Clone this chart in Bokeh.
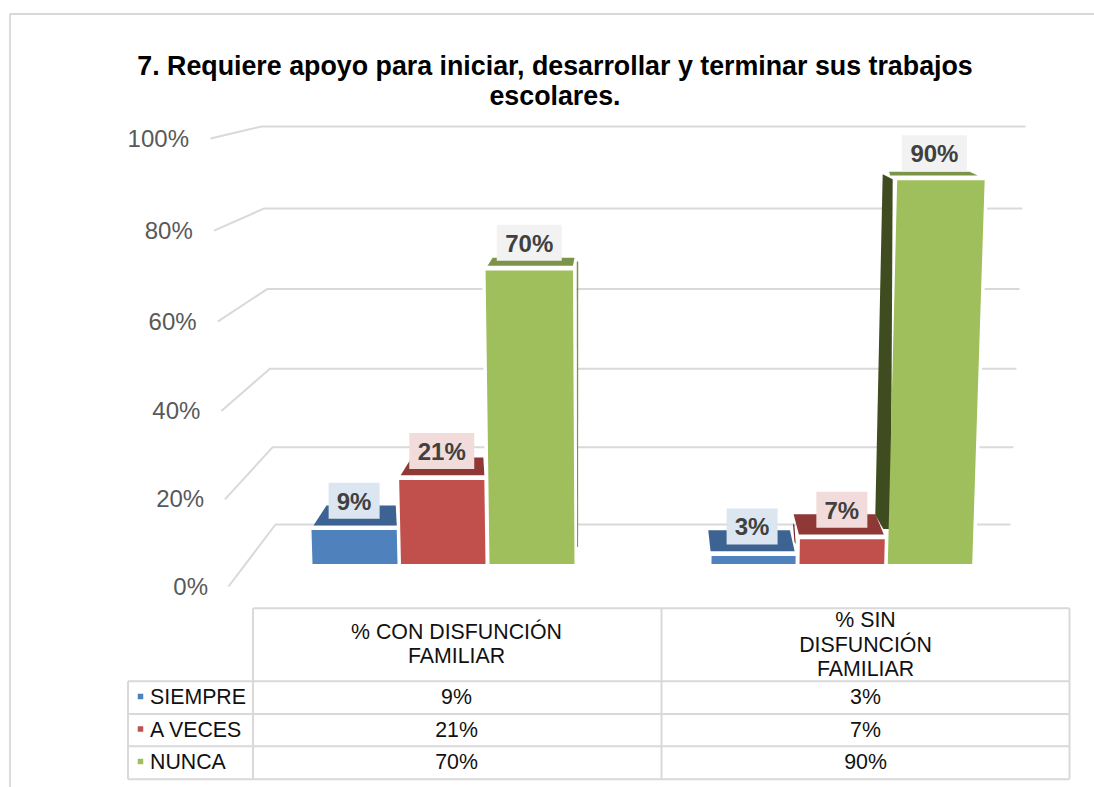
from bokeh.plotting import figure
from bokeh.models import Range1d, ColumnDataSource
from bokeh.core.properties import value
from bokeh.embed import file_html
from bokeh.resources import INLINE

# ---------- data ----------
title_lines = ["7. Requiere apoyo para iniciar, desarrollar y terminar sus trabajos", "escolares."]
series = ["SIEMPRE", "A VECES", "NUNCA"]
group_lines = [["% CON DISFUNCIÓN", "FAMILIAR"], ["% SIN", "DISFUNCIÓN", "FAMILIAR"]]
con_disfuncion = [9, 21, 70]
sin_disfuncion = [3, 7, 90]
ticks = [0, 20, 40, 60, 80, 100]

# ---------- styles ----------
front_colors = ["#4f81bd", "#c1504d", "#9fbf5c"]
top_colors = ["#3c6391", "#8f3937", "#7c9447"]
box_colors = ["#dce6f1", "#f2dcdb", "#f2f2f2"]
GRID = "#d9d9d9"
FONT = value("Liberation Sans")

# ---------- layout / projection ----------
W, H = 1094, 787
BASE = 563.5
VX, KX = 630.0, 9.5e-5
GAP = 4.7
SLOT_X = [[312, 400.5, 489], [711, 799, 887.3]]
SLOT_W = [[85, 84.5, 85], [84, 84.7, 84.4]]
SCALE = [429, 433]
INSET = [3.5, 4.5]
# offsets of a bar's top face corners from its front corners: front-left, front-right, back-left, back-right
TOP_OFF = [[(2, 0, 15, -1), (1.5, 0, 12.5, -1), (2, 0, 7, 1.6)],
           [(-1, -1, -3.3, -5.7), (-1, -1, -6.3, -9.4), (-7, -7, -8, -15)]]
LABEL_DX = [[0, 0, 0], [-1.5, -0.5, -6.5]]


def persp(v):
    t = v / 100
    return t * 0.965 / (1 - 0.035 * t)


def front_level(v):
    return 586 - 448 * persp(v)


def back_level(v):
    return 524 - 398 * persp(v)


def depth(y):
    return 0.046 * (y - 92)


def bar_geometry(g, s, v):
    xl, w = SLOT_X[g][s], SLOT_W[g][s]
    xr = xl + w
    h = SCALE[g] * persp(v) - INSET[g]
    ytop = BASE - h
    tl = xl + (xl - VX) * h * KX
    tr = xr + (xr - VX) * h * KX
    return xl, xr, tl, tr, ytop


p = figure(width=W, height=H, x_range=Range1d(0, W), y_range=Range1d(H, 0),
           output_backend="svg", toolbar_location=None, min_border=0,
           outline_line_color=None, background_fill_color="white")
p.axis.visible = False
p.grid.visible = False

# outer chart border
p.multi_line([[9.5, 9.5, W]], [[H, 13.5, 13.5]], line_color=GRID, line_width=1.8)

# gridlines on side and back wall
p.multi_line(
    xs=[[228 - 0.18 * t, 275 - 0.14 * t, 1010 + 0.15 * t] for t in ticks],
    ys=[[front_level(t), back_level(t), back_level(t)] for t in ticks],
    line_color=GRID, line_width=2)

# y tick labels
p.text(x=[207.5 - 0.19 * t for t in ticks], y=[front_level(t) - 0.5 for t in ticks],
       text=[f"{t}%" for t in ticks], text_font=FONT, text_font_size="24px", text_color="#595959",
       text_align="right", text_baseline="middle")

groups = [con_disfuncion, sin_disfuncion]
halo_x, halo_y, top_x, top_y, top_c, front_x, front_y, front_c = [], [], [], [], [], [], [], []
labels = {"l": [], "r": [], "t": [], "b": [], "c": [], "x": [], "y": [], "text": []}
side_x, side_y, side_c = [], [], []

for g, vals in enumerate(groups):
    for s, v in enumerate(vals):
        xl, xr, tl, tr, ytop = bar_geometry(g, s, v)
        halo_x.append([xl, tl, tr, xr])
        halo_y.append([BASE, ytop, ytop, BASE])
        front_x.append([xl, tl, tr, xr])
        front_y.append([BASE, ytop, ytop, BASE])
        front_c.append(front_colors[s])
        yf = ytop - GAP
        yb = yf - depth(yf)
        o = TOP_OFF[g][s]
        top_x.append([tl + o[0], tr + o[1], tr + o[3], tl + o[2]])
        top_y.append([yf, yf, yb, yb])
        top_c.append(top_colors[s])
        label = f"{v}%"
        w = 65 if len(label) == 3 else 51
        cx = (tl + tr) / 2 + LABEL_DX[g][s]
        bottom = ytop - (11.6 - 0.028 * v)
        labels["l"].append(cx - w / 2)
        labels["r"].append(cx + w / 2)
        labels["t"].append(bottom - 36)
        labels["b"].append(bottom)
        labels["c"].append(box_colors[s])
        labels["x"].append(cx)
        labels["y"].append(bottom - 17.5)
        labels["text"].append(label)

# side faces visible beside the tall bars, placed relative to each bar's top
_, xr, _, tr, yt = bar_geometry(0, 2, con_disfuncion[2])
side_x.append([tr + 3.8, tr + 5.3, xr + 3.6, xr + 2.6])
side_y.append([yt - 9, yt - 9, BASE - 17, BASE - 17])
side_c.append("#7c9447")
xl, _, tl, _, yt = bar_geometry(1, 2, sin_disfuncion[2])
side_x.append([tl - 14.5, tl - 4.5, xl + 3, xl - 4.5, xl - 12.5])
side_y.append([yt - 6, yt - 1, BASE - 35, BASE - 35 - 0, BASE - 49])
side_c.append("#3f4c20")
xl, _, tl, _, yt = bar_geometry(1, 1, sin_disfuncion[1])
side_x.append([tl - 7, tl - 5.5, xl - 3.8, xl - 5])
side_y.append([yt - 16, yt - 14, BASE - 20, BASE - 22])
side_c.append("#6e2a28")

p.patches(halo_x, halo_y, fill_color="white", line_color="white", line_width=7, line_join="miter")
p.patches(side_x, side_y, fill_color=side_c, line_color=None)
p.patches(top_x, top_y, fill_color=top_c, line_color=None)
p.patches(front_x, front_y, fill_color=front_c, line_color=None)

src = ColumnDataSource(labels)
p.quad(left="l", right="r", top="t", bottom="b", fill_color="c", line_color=None, source=src)
p.text(x="x", y="y", text="text", source=src, text_font=FONT, text_font_style="bold",
       text_font_size="24px", text_color="#404040", text_align="center", text_baseline="middle")

# title
p.text(x=[554.5, 554.5], y=[65, 95.5], text=title_lines, text_font=FONT, text_font_style="bold",
       text_font_size="26.8px", text_color="#000000", text_align="center", text_baseline="middle")

# data table grid
COLS = [252.5, 661, 1069]
ROWS = [607.7, 680.7, 713.4, 745.8, 778.7]
LEFT = 127.5
table_x = [[COLS[0], COLS[2]], [LEFT, COLS[2]], [LEFT, COLS[2]], [LEFT, COLS[2]], [LEFT, COLS[2]],
           [LEFT, LEFT], [COLS[0], COLS[0]], [COLS[1], COLS[1]], [COLS[2], COLS[2]]]
table_y = [[ROWS[0], ROWS[0]]] + [[r, r] for r in ROWS[1:]] + \
          [[ROWS[1], ROWS[4]], [ROWS[0], ROWS[4]], [ROWS[0], ROWS[4]], [ROWS[0], ROWS[4]]]
p.multi_line(table_x, table_y, line_color=GRID, line_width=2)

# table headers
CENTERS = [456, 865]
HEAD_Y = [[631.5, 655.5], [619.5, 644.5, 668.5]]
for c, lines, ys in zip(CENTERS, group_lines, HEAD_Y):
    p.text(x=[c] * len(lines), y=ys, text=lines, text_font=FONT, text_font_size="21.33px",
           text_color="#111111", text_align="center", text_baseline="middle")

# table rows
ROW_Y = [696.5, 729, 761.5]
p.text(x=[149.5] * 3, y=ROW_Y, text=series, text_font=FONT, text_font_size="21.33px",
       text_color="#111111", text_align="left", text_baseline="middle")
p.scatter(x=[140] * 3, y=[r - 0.5 for r in ROW_Y], size=5.5, marker="square", fill_color=front_colors, line_color=None)
for c, vals in zip(CENTERS, groups):
    p.text(x=[c] * 3, y=ROW_Y, text=[f"{v}%" for v in vals], text_font=FONT, text_font_size="21.33px",
           text_color="#111111", text_align="center", text_baseline="middle")

open("out.html", "w").write(file_html(p, INLINE))
